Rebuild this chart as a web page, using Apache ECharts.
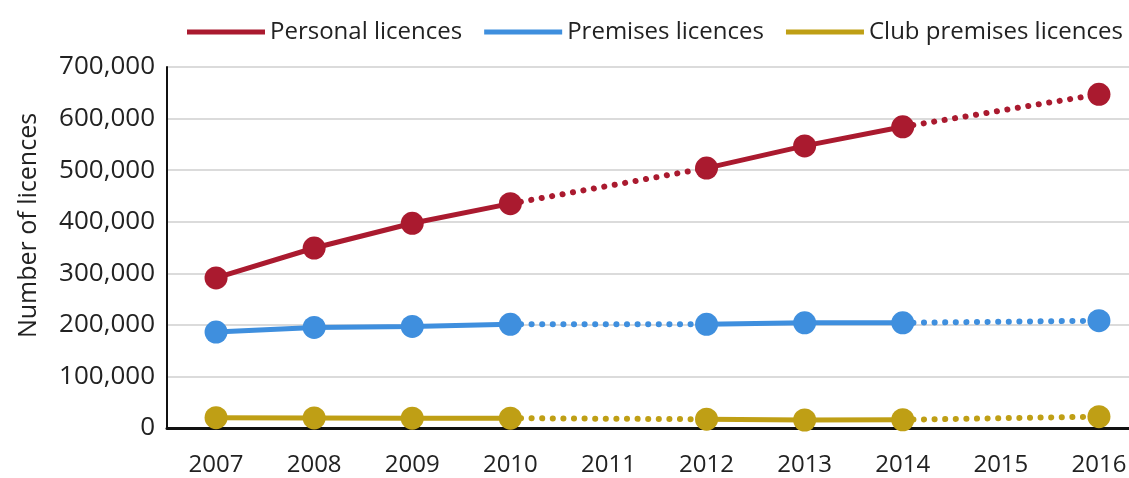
<!DOCTYPE html>
<html>
<head>
<meta charset="utf-8">
<script src="https://cdn.jsdelivr.net/npm/echarts@6/dist/echarts.min.js"></script>
<style>html,body{margin:0;padding:0;background:#fff;overflow:hidden;}#c{width:1150px;height:478px;}</style>
</head>
<body>
<div id="c"></div>
<script>
const years = ['2007','2008','2009','2010','2011','2012','2013','2014','2015','2016'];
const personal = [291000, 349000, 397000, 435000, null, 504000, 547000, 584000, null, 647000];
const premises = [186000, 195000, 197000, 201000, null, 201000, 204000, 204000, null, 208000];
const club = [20000, 19500, 19000, 19000, null, 17000, 15500, 16000, null, 22000];
const yTicks = [0, 100000, 200000, 300000, 400000, 500000, 600000, 700000];

const names = ['Personal licences', 'Premises licences', 'Club premises licences'];
const colors = ['#AA1A2F', '#3F8FDE', '#BF9F15'];
const datasets = [personal, premises, club];
const FONT = '"Open Sans", sans-serif';

function gapSegments(arr) {
  const segs = [];
  for (let i = 1; i < arr.length - 1; i++) {
    if (arr[i] === null && arr[i-1] !== null && arr[i+1] !== null) {
      segs.push(arr.map((v, j) => (j === i-1 || j === i+1) ? v : null));
    }
  }
  return segs;
}

const series = [];
datasets.forEach((d, k) => {
  gapSegments(d).forEach((seg, n) => {
    series.push({
      name: names[k] + ' gap ' + n, type: 'line', data: seg, connectNulls: true,
      symbol: 'none', z: 2, silent: true,
      lineStyle: { color: colors[k], width: 6, type: [0.1, 10.5], cap: 'round' },
      itemStyle: { color: colors[k] }
    });
  });
  series.push({
    name: names[k], type: 'line', data: d, connectNulls: false,
    symbol: 'circle', symbolSize: 23, z: 3,
    lineStyle: { color: colors[k], width: 5 },
    itemStyle: { color: colors[k] }
  });
});

const chart = echarts.init(document.getElementById('c'), null, { renderer: 'canvas' });
chart.setOption({
  animation: false,
  backgroundColor: '#fff',
  legend: {
    data: names, left: 187, top: 20, padding: 0, itemWidth: 78, itemHeight: 5, itemGap: 22, icon: 'rect',
    textStyle: { fontFamily: FONT, fontSize: 24, color: '#222' }
  },
  grid: { left: 167, top: 67, width: 981, height: 361, containLabel: false },
  xAxis: {
    type: 'category', data: years, boundaryGap: true,
    axisLine: { lineStyle: { color: '#111', width: 3 } },
    axisTick: { show: false },
    axisLabel: { fontFamily: FONT, fontSize: 24, color: '#222', margin: 25 },
    splitLine: { show: false }
  },
  yAxis: {
    type: 'value', min: yTicks[0], max: yTicks[yTicks.length-1], interval: 100000,
    name: 'Number of licences', nameLocation: 'middle', nameGap: 126, nameRotate: 90,
    nameTextStyle: { fontFamily: FONT, fontSize: 25, color: '#222', padding: [0, 0, 0, 44] },
    axisLine: { show: true, lineStyle: { color: '#111', width: 2 } },
    axisTick: { show: false },
    axisLabel: { fontFamily: FONT, fontSize: 26, color: '#222', margin: 12,
      formatter: v => v.toLocaleString('en-GB') },
    splitLine: { lineStyle: { color: '#cfcfcf', width: 1.5 } }
  },
  series: series
});
</script>
</body>
</html>
